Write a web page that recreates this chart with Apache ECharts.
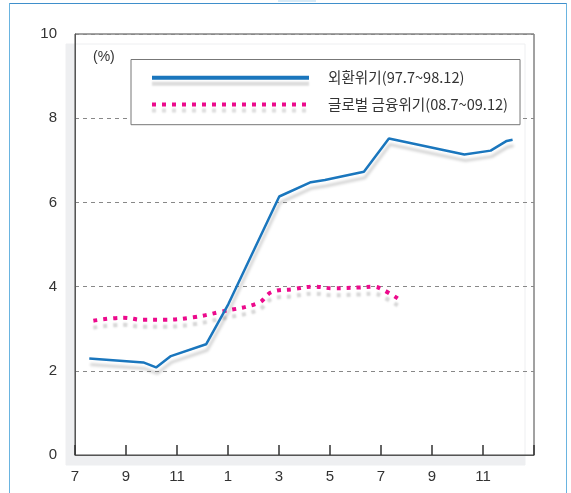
<!DOCTYPE html>
<html>
<head>
<meta charset="utf-8">
<script src="https://cdn.jsdelivr.net/npm/echarts@6/dist/echarts.min.js"></script>
<style>
  html, body { margin: 0; padding: 0; background: #fff; }
  #chart { width: 571px; height: 493px; }
</style>
</head>
<body>
<div id="chart"></div>
<script>
// Month offsets from July (0 = Jul, 6 = Jan of next year, 18 = Jan two years on)
var xTickLabels = ['7', '9', '11', '1', '3', '5', '7', '9', '11', ''];
var yTickLabels = ['0', '2', '4', '6', '8', '10'];

var seriesNames = ['외환위기(97.7~98.12)', '글로벌 금융위기(08.7~09.12)'];

// 외환위기 (97.7 ~ 98.12)
var crisisA_month = [0.56, 2.68, 3.18, 3.76, 5.14, 6.01, 8.01, 9.25, 9.80, 11.33, 12.31, 15.27, 16.30, 16.93, 17.16];
var crisisA_rate  = [2.29, 2.20, 2.08, 2.35, 2.63, 3.58, 6.14, 6.48, 6.53, 6.73, 7.52, 7.14, 7.23, 7.46, 7.49];

// 글로벌 금융위기 (08.7 ~ 09.12)
var crisisB_month = [0.72, 1.89, 2.68, 3.46, 4.64, 5.69, 7.19, 7.71, 8.56, 9.35, 10.13, 11.18, 11.70, 12.03, 12.68];
var crisisB_rate  = [3.19, 3.26, 3.21, 3.21, 3.27, 3.40, 3.61, 3.87, 3.94, 4.00, 3.96, 3.98, 4.00, 3.94, 3.71];

function zip(xs, ys) { return xs.map(function (x, i) { return [x, ys[i]]; }); }

var chart = echarts.init(document.getElementById('chart'), null, { renderer: 'canvas' });

var numFont = 'Liberation Sans';
var krFont = 'Noto Sans CJK KR';

chart.setOption({
  animation: false,
  backgroundColor: '#fff',
  graphic: [
    { type: 'rect', z: 100, silent: true,
      shape: { x: 9.5, y: 3.5, width: 557, height: 520 },
      style: { fill: 'none', stroke: '#6ab4e0', lineWidth: 1 } },
    { type: 'line', z: 101, silent: true,
      shape: { x1: 9.5, y1: 3.5, x2: 566.5, y2: 3.5 },
      style: { stroke: '#3f8fcb', lineWidth: 1 } },
    { type: 'rect', z: 101, silent: true,
      shape: { x: 278, y: 0, width: 38, height: 2 },
      style: { fill: '#d6eaf7' } }
  ],
  grid: {
    left: 75, right: 37, top: 34, bottom: 38,
    show: true,
    backgroundColor: '#fff',
    borderColor: '#444',
    borderWidth: 1,
    shadowColor: '#eeeff1',
    shadowBlur: 0,
    shadowOffsetX: -9,
    shadowOffsetY: 10
  },
  legend: {
    orient: 'vertical',
    left: 131, top: 59.5,
    backgroundColor: '#fff',
    borderColor: '#777',
    borderWidth: 1,
    padding: [11, 12, 13, 19],
    itemGap: 12,
    itemWidth: 157,
    itemHeight: 14,
    data: seriesNames,
    lineStyle: {
      width: 4,
      shadowColor: 'rgba(0,0,0,0.14)', shadowBlur: 2, shadowOffsetX: 0, shadowOffsetY: 6
    },
    itemStyle: { opacity: 0, borderWidth: 0 },
    textStyle: { fontSize: 14.6, fontFamily: krFont, color: '#333', padding: [0, 0, 0, 14] }
  },
  xAxis: {
    type: 'value',
    min: 0, max: 18, interval: 2,
    axisLine: { show: true, lineStyle: { color: '#555', width: 1 } },
    axisTick: { show: true, inside: true, length: 10, lineStyle: { color: '#333', width: 1.5 } },
    axisLabel: {
      margin: 14, fontSize: 15, fontFamily: numFont, color: '#333',
      formatter: function (v) { return xTickLabels[Math.round(v / 2)]; }
    },
    splitLine: { show: false }
  },
  yAxis: {
    type: 'value',
    min: 0, max: 10, interval: 2,
    name: '(%)',
    nameLocation: 'end',
    nameGap: -30,
    nameTextStyle: { fontSize: 14, fontFamily: numFont, color: '#333', align: 'left', padding: [0, 0, 0, 18] },
    axisLine: { show: true, lineStyle: { color: '#555', width: 1 } },
    axisTick: { show: false },
    axisLabel: {
      margin: 18, fontSize: 15, fontFamily: numFont, color: '#333',
      formatter: function (v) { return yTickLabels[Math.round(v / 2)]; }
    },
    splitLine: { show: true, lineStyle: { color: '#888', type: [4, 4], width: 1 } }
  },
  series: [
    {
      name: seriesNames[0],
      type: 'line',
      data: zip(crisisA_month, crisisA_rate),
      symbol: 'none',
      smooth: false,
      lineStyle: {
        color: '#1a76bd', width: 2.5,
        shadowColor: 'rgba(0,0,0,0.2)', shadowBlur: 3, shadowOffsetX: 1, shadowOffsetY: 6
      },
      itemStyle: { color: '#1a76bd' },
      z: 3
    },
    {
      name: seriesNames[1],
      type: 'line',
      data: zip(crisisB_month, crisisB_rate),
      symbol: 'none',
      smooth: 0.4,
      lineStyle: {
        color: '#ec0a8c', width: 4, type: [4, 6], cap: 'butt',
        shadowColor: 'rgba(0,0,0,0.17)', shadowBlur: 2, shadowOffsetX: 0, shadowOffsetY: 7
      },
      itemStyle: { color: '#ec0a8c' },
      z: 2
    }
  ]
});
</script>
</body>
</html>
